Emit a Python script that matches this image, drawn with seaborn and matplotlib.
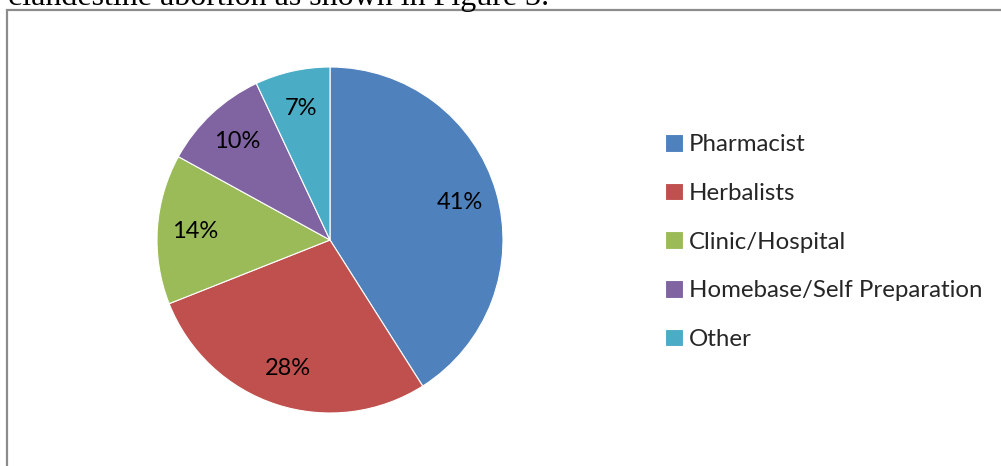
import matplotlib
matplotlib.use("Agg")
import matplotlib.pyplot as plt
import seaborn as sns
from matplotlib.patches import Rectangle

# Data
sources = ["Pharmacist", "Herbalists", "Clinic/Hospital",
           "Homebase/Self Preparation", "Other"]
shares = [41, 28, 14, 10, 7]
colors = ["#4F81BD", "#C0504D", "#9BBB59", "#8064A2", "#4BACC6"]
caption = "clandestine abortion as shown in Figure 3."

sns.set_theme(style="white")
plt.rcParams["font.family"] = ["Lato", "DejaVu Sans"]

W, H = 1001, 466
fig = plt.figure(figsize=(W / 100, H / 100), dpi=100)
fig.patch.set_facecolor("white")

# Caption text cut off at the top of the page
fig.text(8 / W, 1 - 4.7 / H, caption, family=["Liberation Serif"],
         fontsize=23, va="baseline", ha="left", color="black")

# Chart frame (runs off the right and bottom edge)
frame = Rectangle((7 / W, -0.2), 1.2, 0.2 + 1 - 10 / H, transform=fig.transFigure,
                  fill=False, edgecolor="#8c8c8c", linewidth=1.6)
fig.patches.append(frame)

# Pie axes: centre (330, 240), radius 173 px
cx, cy, r = 330, 240, 173
ax = fig.add_axes([(cx - r) / W, 1 - (cy + r) / H, 2 * r / W, 2 * r / H])
wedges, texts, autotexts = ax.pie(
    shares, colors=colors, startangle=90, counterclock=False,
    autopct=lambda p: f"{p:.0f}%", pctdistance=0.78,
    wedgeprops=dict(edgecolor="white", linewidth=0.8),
    textprops=dict(fontsize=17, color="black"))
ax.set_xlim(-1, 1)
ax.set_ylim(-1, 1)
ax.axis("off")

fig.legend(wedges, sources, loc="center left",
           bbox_to_anchor=(665 / W, 1 - 242 / H), frameon=False,
           fontsize=17.3, handlelength=0.75, handleheight=0.75,
           handletextpad=0.25, labelspacing=1.14, borderpad=0,
           borderaxespad=0)

fig.savefig("out.png", dpi=100)
